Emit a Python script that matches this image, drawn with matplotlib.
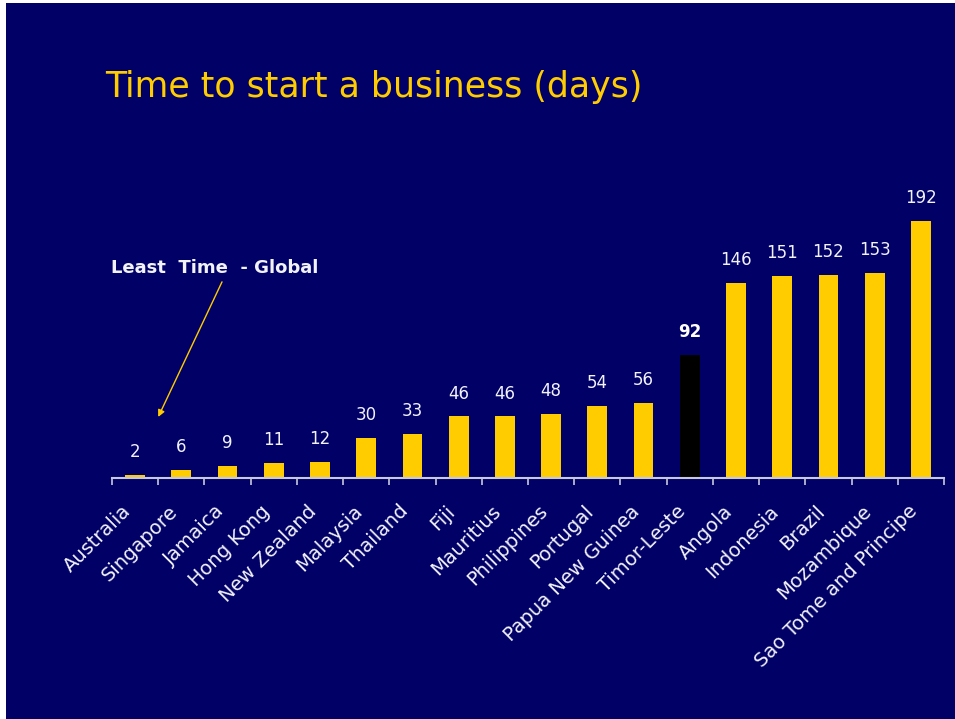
import matplotlib.pyplot as plt
from matplotlib.patches import Rectangle

countries = ["Australia", "Singapore", "Jamaica", "Hong Kong", "New Zealand",
             "Malaysia", "Thailand", "Fiji", "Mauritius", "Philippines",
             "Portugal", "Papua New Guinea", "Timor-Leste", "Angola",
             "Indonesia", "Brazil", "Mozambique", "Sao Tome and Principe"]
days = [2, 6, 9, 11, 12, 30, 33, 46, 46, 48, 54, 56, 92, 146, 151, 152, 153, 192]
highlight = "Timor-Leste"

NAVY = "#000066"
GOLD = "#FFCC00"
LABEL = "#F2F2FA"
AXIS = "#C8C8DC"

W, H = 955, 719
fig = plt.figure(figsize=(W / 100, H / 100), dpi=100)
fig.patch.set_facecolor("white")
fig.patches.append(Rectangle((6 / W, 0), 1 - 6 / W, 1 - 3 / H,
                             transform=fig.transFigure, facecolor=NAVY,
                             edgecolor="none", zorder=-10))

ax = fig.add_axes([112 / W, 1 - 478 / H, 832 / W, 328 / H])
ax.set_facecolor("none")
ax.set_zorder(2)

x = list(range(len(countries)))
colors = ["black" if c == highlight else GOLD for c in countries]
bars = ax.bar(x, days, width=0.43, color=colors, zorder=2)

for i, (b, v) in enumerate(zip(bars, days)):
    bold = countries[i] == highlight
    ax.annotate(str(v), (b.get_x() + b.get_width() / 2, v),
                xytext=(0, 10), textcoords="offset points",
                ha="center", va="bottom", color="white" if bold else LABEL,
                fontsize=12, fontweight="bold" if bold else "normal")

ax.set_xlim(-0.5, len(countries) - 0.5)
ax.set_ylim(0, 245)

for s in ["left", "right", "top"]:
    ax.spines[s].set_visible(False)
ax.spines["bottom"].set_color(AXIS)
ax.spines["bottom"].set_linewidth(1.5)
ax.set_yticks([])

ax.set_xticks([i - 0.5 for i in range(len(countries) + 1)], minor=True)
ax.set_xticks(x)
ax.set_xticklabels(countries, rotation=45, ha="right", va="top",
                   color=LABEL, fontsize=14)
ax.tick_params(axis="x", which="major", length=0, pad=17)
ax.tick_params(axis="x", which="minor", length=5, width=1.2, color=AXIS,
               direction="out")

ax.text(-0.52, 157, "Least  Time  - Global", color=LABEL, fontsize=13,
        fontweight="bold", ha="left", va="center")
ax.annotate("", xy=(0.5, 45.6), xytext=(1.88, 146.5),
            arrowprops=dict(arrowstyle="-|>", color=GOLD, lw=1,
                            mutation_scale=10, shrinkA=0, shrinkB=0))

fig.text(105 / W, 1 - 97 / H, "Time to start a business (days)",
         color=GOLD, fontsize=25, ha="left", va="baseline")

fig.savefig("out.png", dpi=100, facecolor=fig.get_facecolor())
